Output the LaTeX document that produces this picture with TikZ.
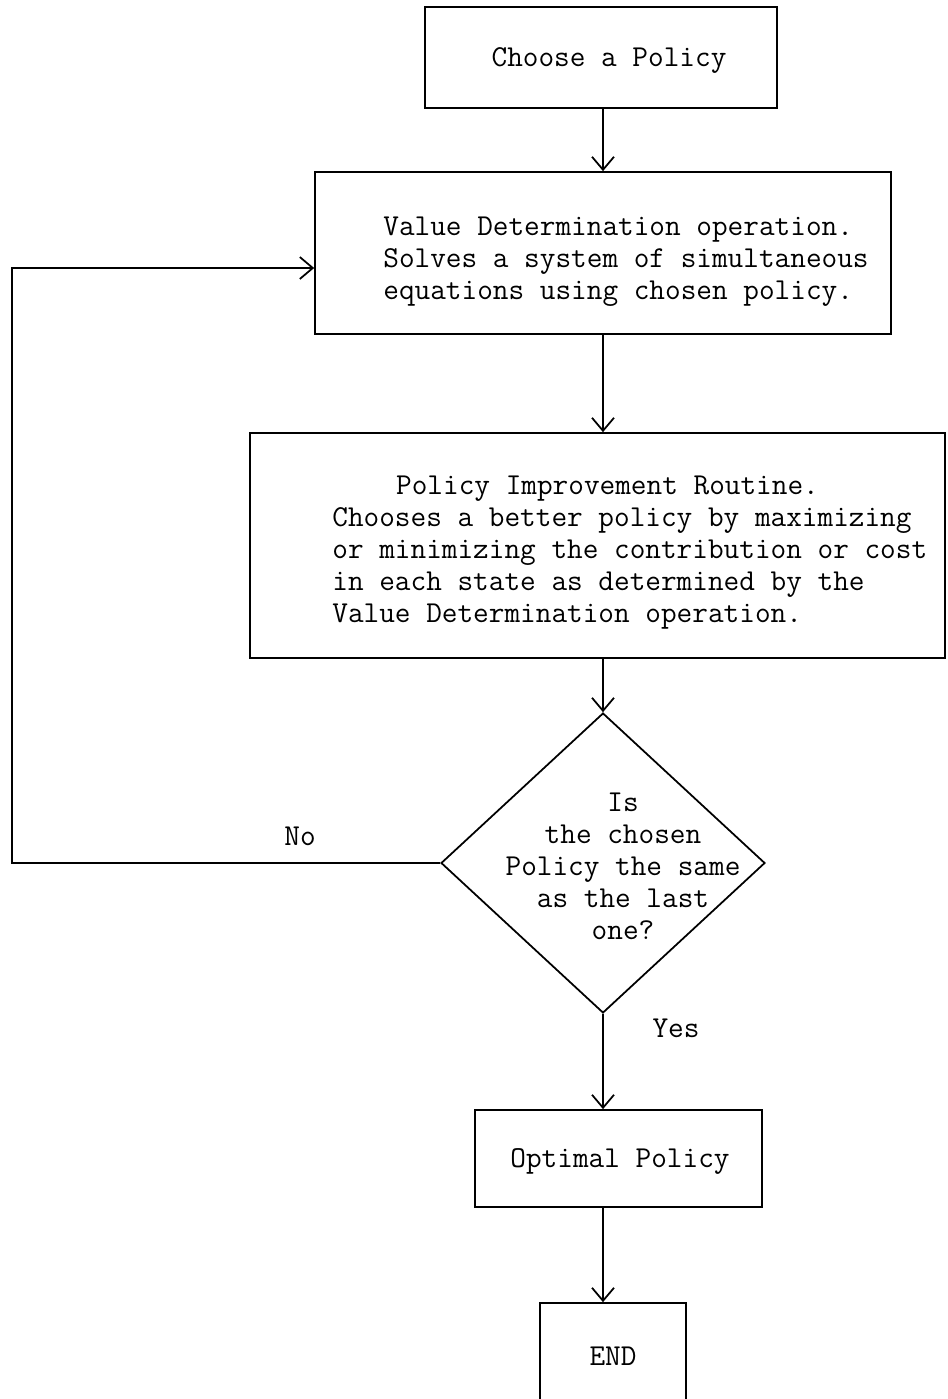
\documentclass[tikz,border=0pt]{standalone}
\usepackage{amsmath}
\usepackage{tikz}
\usetikzlibrary{arrows.meta,shapes.geometric}

\begin{document}
\begin{tikzpicture}[x=0.02cm, y=-0.02cm,
    box/.style={draw, line width=1pt, inner sep=0pt},
    txt/.style={inner sep=0pt, font=\fontsize{17.3}{18.2}\selectfont\ttfamily},
    arr/.style={line width=1pt, -{Straight Barb[length=0.26cm, width=0.44cm]}}]
    \useasboundingbox (0,0) rectangle (947,1399);
    \node[box, minimum width=7.04cm, minimum height=2.02cm] (choose) at (601,57.5) {};
    \node[txt] (choosetext) at (609,60) {Choose a Policy};
    \node[box, minimum width=11.52cm, minimum height=3.24cm] (valdet) at (603,253) {};
    \node[txt, anchor=west, align=left] (valdettext) at (383,262)
        {Value Determination operation.\\Solves a system of simultaneous\\equations using chosen policy.};
    \node[box, minimum width=13.9cm, minimum height=4.5cm] (improve) at (597.5,545.5) {};
    \node[txt, anchor=west, align=left] (improvetext) at (332,553)
        {\hspace*{2.1em}Policy Improvement Routine.\\Chooses a better policy by maximizing\\or minimizing the contribution or cost\\in each state as determined by the\\Value Determination operation.};
    \node[box, diamond, minimum width=6.48cm, minimum height=6cm] (same) at (603,863) {};
    \node[txt, align=center] (sametext) at (623,866) {Is\\the chosen\\Policy the same\\as the last\\one?};
    \node[box, minimum width=5.74cm, minimum height=1.94cm] (optimal) at (618.5,1158.5) {};
    \node[txt] (optimaltext) at (620,1161) {Optimal Policy};
    \node[box, minimum width=2.92cm, minimum height=2.08cm] (finish) at (613,1355) {};
    \node[txt] (finishtext) at (613,1356) {END};
    \node[txt] (no) at (300,836) {No};
    \node[txt] (yes) at (676,1028) {Yes};
    \coordinate (back) at (12,268);
    \draw[arr] (choose.south -| same.north) -- (valdet.north -| same.north);
    \draw[arr] (valdet.south -| same.north) -- (improve.north -| same.north);
    \draw[arr] (improve.south -| same.north) -- (same.north);
    \draw[arr] (same.south) -- (optimal.north -| same.south);
    \draw[arr] (optimal.south -| same.south) -- (finish.north -| same.south);
    \draw[arr] (same.west) -| (back) -- (valdet.west |- back);
\end{tikzpicture}
\end{document}
